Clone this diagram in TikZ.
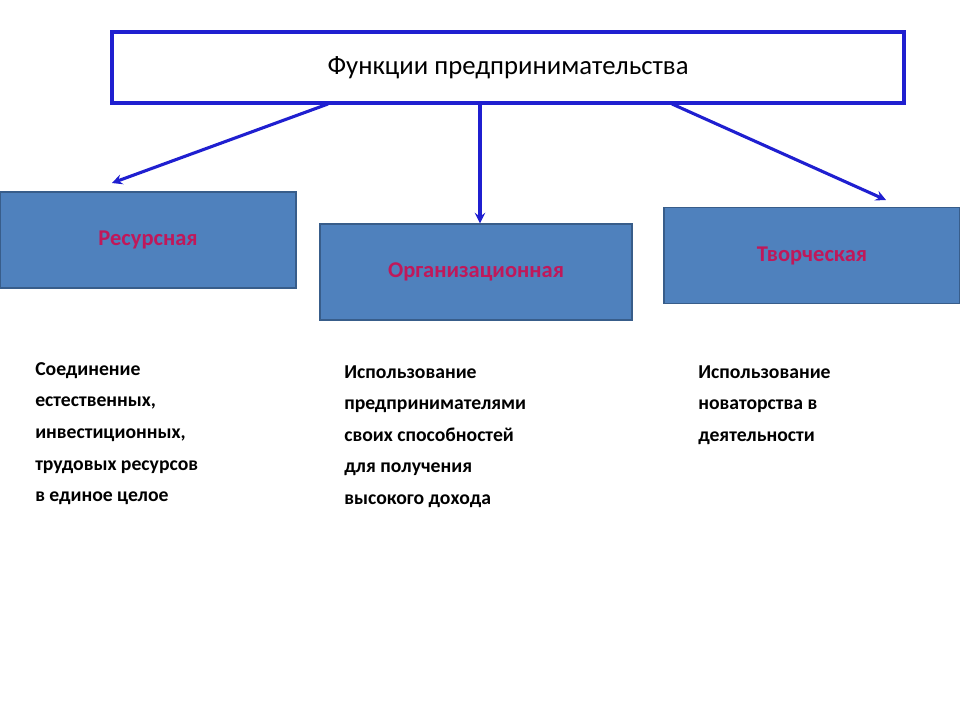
\documentclass[tikz,border=0pt]{standalone}
\usepackage{fontspec}
\setmainfont{Carlito}
\usetikzlibrary{positioning}
\definecolor{boxblue}{HTML}{4F81BD}
\definecolor{boxedge}{HTML}{385D8A}
\definecolor{linkblue}{HTML}{1F1FD0}
\definecolor{labelred}{HTML}{C0185A}
\tikzset{
  funcbox/.style={draw=boxedge, fill=boxblue, line width=1pt, minimum height=2.4cm,
    font=\fontsize{16}{19}\selectfont\bfseries, text=labelred},
  desc/.style={anchor=north west, align=left, font=\fontsize{14}{22.5}\selectfont\bfseries, inner sep=0pt},
  link/.style={draw=linkblue, line width=2.2pt, ->, >=stealth}
}
\begin{document}
\begin{tikzpicture}[x=0.025cm,y=-0.025cm]
        \useasboundingbox (0,0) rectangle (960,720);
        % Title
        \node[draw=linkblue, line width=3pt, minimum width=19.8cm, minimum height=1.78cm,
          font=\fontsize{19}{22}\selectfont] (title) at (508,67.5) {Функции предпринимательства};

        % Function boxes
        \node[funcbox, minimum width=7.4cm] (res) at (148,240) {Ресурсная};
        \node[funcbox, minimum width=7.8cm] (org) at (476,272) {Организационная};
        \node[funcbox, minimum width=7.4cm] (cre) at (812,255.5) {Творческая};

        \coordinate (t1) at (328,104);
        \coordinate (t2) at (480,104);
        \coordinate (t3) at (672,104);
        \draw[link] (t1) -- (112,183);
        \draw[link] (t2) -- (org.north -| t2);
        \draw[link] (t3) -- (886,200);

        % Descriptions
        \node[desc] (dres) at (35,362) {Соединение\\естественных,\\инвестиционных,\\трудовых ресурсов\\в единое целое};
        \node[desc] (dorg) at (344,365) {Использование\\предпринимателями\\своих способностей\\для получения\\высокого дохода};
        \node[desc] (dcre) at (698,365) {Использование\\новаторства в\\деятельности};
\end{tikzpicture}
\end{document}
